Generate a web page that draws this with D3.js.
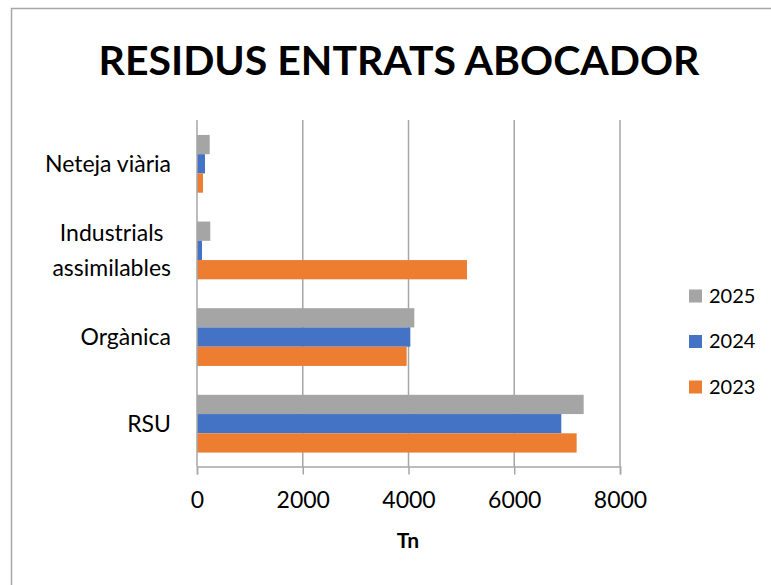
<!DOCTYPE html>
<html>
<head>
<meta charset="utf-8">
<script src="https://cdn.jsdelivr.net/npm/d3@7"></script>
<style>
  body { margin: 0; background: #fff; }
  text { font-family: Lato, "Noto Sans", sans-serif; fill: #000; }
</style>
</head>
<body>
<div id="chart"></div>
<script>
// data
const categories = ["Neteja viària", "Industrials assimilables", "Orgànica", "RSU"];
const categoryLines = [["Neteja viària"], ["Industrials", "assimilables"], ["Orgànica"], ["RSU"]];
const years = ["2025", "2024", "2023"];
const values2025 = [240, 252, 4110, 7313];
const values2024 = [151, 95, 4035, 6890];
const values2023 = [113, 5106, 3965, 7180];
const xTicks = [0, 2000, 4000, 6000, 8000];
const colors = ["#a5a5a5", "#4472c4", "#ed7d31"];

const seriesValues = [values2025, values2024, values2023];
const rows = categories.map((c, i) => ({
  cat: c,
  vals: years.map((y, j) => ({ year: y, value: seriesValues[j][i], color: colors[j] }))
}));

const W = 771, H = 585;
const svg = d3.select("#chart")
  .append("svg")
  .attr("width", W)
  .attr("height", H);

// outer frame (runs off the bottom/right of the picture)
svg.append("rect")
  .attr("x", 11.5)
  .attr("y", 8.5)
  .attr("width", 800)
  .attr("height", 700)
  .attr("fill", "#fff")
  .attr("stroke", "#a6a6a6")
  .attr("stroke-width", 1.5);

svg.append("text")
  .attr("x", 399)
  .attr("y", 75)
  .attr("text-anchor", "middle")
  .style("font-size", "41px")
  .style("font-weight", "bold")
  .text("RESIDUS ENTRATS ABOCADOR");

const x = d3.scaleLinear()
  .domain([0, 8000])
  .range([197, 620]);

const y = d3.scaleBand()
  .domain(categories)
  .range([120.5, 467])
  .paddingInner(1 / 3)
  .paddingOuter(1 / 6);

const yInner = d3.scaleBand()
  .domain(years)
  .range([0, y.bandwidth()]);

const axisY = 466.5;

// gridlines
svg.append("g")
  .selectAll("line")
  .data(xTicks.slice(1))
  .enter()
  .append("line")
  .attr("x1", d => x(d))
  .attr("x2", d => x(d))
  .attr("y1", 120)
  .attr("y2", axisY)
  .attr("stroke", "#a6a6a6")
  .attr("stroke-width", 1.5);

// bars
const groups = svg.selectAll(".group")
  .data(rows)
  .enter()
  .append("g")
  .attr("class", "group")
  .attr("transform", d => `translate(0,${y(d.cat)})`);

groups.selectAll("rect")
  .data(d => d.vals)
  .enter()
  .append("rect")
  .attr("x", x(0))
  .attr("y", d => yInner(d.year))
  .attr("width", d => x(d.value) - x(0))
  .attr("height", yInner.bandwidth())
  .attr("fill", d => d.color);

// x axis
const xAxis = svg.append("g")
  .attr("transform", `translate(0,${axisY})`)
  .call(d3.axisBottom(x).tickValues(xTicks).tickSize(8).tickPadding(17).tickFormat(d3.format("d")));
xAxis.select(".domain").attr("stroke", "#a6a6a6").attr("stroke-width", 1.5);
xAxis.selectAll(".tick line").attr("stroke", "#a6a6a6").attr("stroke-width", 1.5);
xAxis.selectAll(".tick text")
  .attr("font-family", null)
  .style("font-size", "23px")
  .attr("fill", "#000");

// y axis line
svg.append("line")
  .attr("x1", x(0))
  .attr("x2", x(0))
  .attr("y1", 120)
  .attr("y2", axisY)
  .attr("stroke", "#a6a6a6")
  .attr("stroke-width", 1.5);

// category labels
categoryLines.forEach((lines, i) => {
  const cy = y(categories[i]) + y.bandwidth() / 2;
  const lh = 34.5;
  const t = svg.append("text")
    .style("font-size", "23px");
  lines.forEach((ln, k) => {
    t.append("tspan")
      .attr("x", 0)
      .attr("y", cy + 8 + (k - (lines.length - 1) / 2) * lh)
      .text(ln);
  });
  // right-align the block, centre lines inside it
  const widths = t.selectAll("tspan").nodes().map(n => n.getComputedTextLength());
  const maxW = d3.max(widths);
  t.attr("text-anchor", "middle");
  t.selectAll("tspan").attr("x", 171 - maxW / 2);
});

// x axis title
svg.append("text")
  .attr("x", 408)
  .attr("y", 548)
  .attr("text-anchor", "middle")
  .style("font-size", "21px")
  .style("font-weight", "bold")
  .text("Tn");

// legend
const legend = svg.selectAll(".legend")
  .data(years)
  .enter()
  .append("g")
  .attr("class", "legend")
  .attr("transform", (d, i) => `translate(689,${302.5 + i * 45.5})`);

legend.append("rect")
  .attr("x", 0)
  .attr("y", -13)
  .attr("width", 13)
  .attr("height", 13)
  .attr("fill", (d, i) => colors[i]);

legend.append("text")
  .attr("x", 20)
  .attr("y", 0)
  .style("font-size", "20px")
  .text(d => d);
</script>
</body>
</html>
